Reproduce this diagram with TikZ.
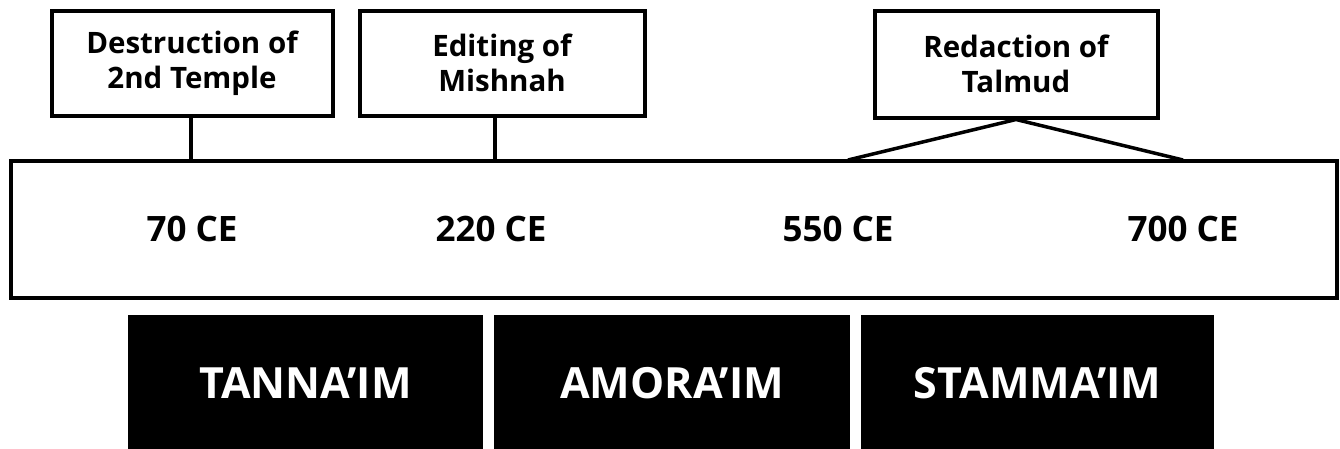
\documentclass[tikz,border=0pt]{standalone}
\usepackage{fontspec}
\setmainfont{Open Sans}
\begin{document}
\begin{tikzpicture}[x=1pt,y=-1pt,
  event/.style={draw=black,line width=4pt,fill=white,align=center,inner sep=0pt,
    font=\fontsize{29.5}{35}\selectfont\bfseries},
  era/.style={fill=black,text=white,inner sep=0pt,font=\fontsize{43}{50}\selectfont\bfseries},
  year/.style={font=\fontsize{35}{40}\selectfont\bfseries},
  link/.style={line width=4pt}]
\useasboundingbox (0,0) rectangle (1340,448);
% main timeline bar
\node[draw=black,line width=4pt,minimum width=1326pt,minimum height=137pt,inner sep=0pt] (bar) at (674,229) {};
% events
\node[event,minimum width=281pt,minimum height=105pt] (e1) at (192,63) {Destruction of\\2nd Temple};
\node[event,minimum width=285pt,minimum height=105pt] (e2) at (502,63) {Editing of\\Mishnah};
\node[event,minimum width=283pt,minimum height=107pt] (e3) at (1016,64) {Redaction of\\Talmud};
\coordinate (t1) at (191,160);
\coordinate (t2) at (495,160);
\coordinate (t3a) at (848,160);
\coordinate (t3b) at (1183,160);
\draw[link] (e1.south -| t1) -- (t1);
\draw[link] (e2.south -| t2) -- (t2);
\draw[link,line width=3.5pt] (t3a) -- (e3.south) -- (t3b);
% years
\node[year] (y1) at (192,229) {70 CE};
\node[year] (y2) at (491,229) {220 CE};
\node[year] (y3) at (838,229) {550 CE};
\node[year] (y4) at (1183,229) {700 CE};
% eras
\node[era,minimum width=355pt,minimum height=136pt] (a1) at (305.5,383) {TANNA’IM};
\node[era,minimum width=356pt,minimum height=136pt] (a2) at (672,383) {AMORA’IM};
\node[era,minimum width=353pt,minimum height=136pt] (a3) at (1037.5,383) {STAMMA’IM};
\end{tikzpicture}
\end{document}
